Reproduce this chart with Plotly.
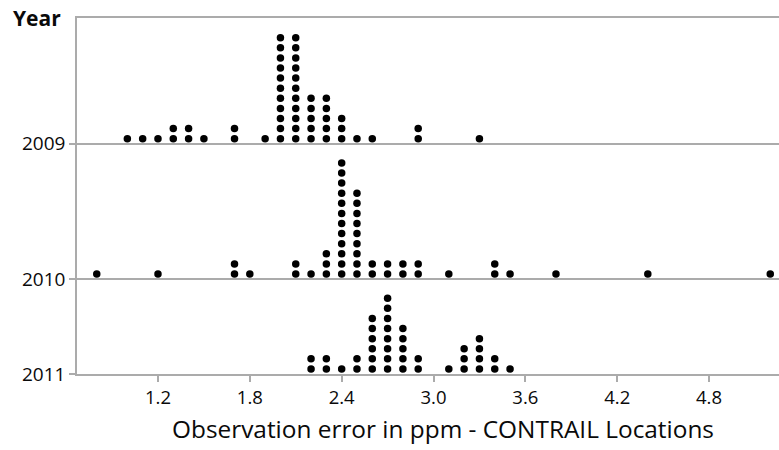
import plotly.graph_objects as go

# ---- data (value bins and number of stacked dots per bin) ----
years = ["2009", "2010", "2011"]
values_2009 = [1.0, 1.1, 1.2, 1.3, 1.4, 1.5, 1.7, 1.9, 2.0, 2.1, 2.2, 2.3, 2.4, 2.5, 2.6, 2.9, 3.3]
counts_2009 = [1, 1, 1, 2, 2, 1, 2, 1, 11, 11, 5, 5, 3, 1, 1, 2, 1]
values_2010 = [0.8, 1.2, 1.7, 1.8, 2.1, 2.2, 2.3, 2.4, 2.5, 2.6, 2.7, 2.8, 2.9, 3.1, 3.4, 3.5, 3.8, 4.4, 5.2]
counts_2010 = [1, 1, 2, 1, 2, 1, 3, 12, 9, 2, 2, 2, 2, 1, 2, 1, 1, 1, 1]
values_2011 = [2.2, 2.3, 2.4, 2.5, 2.6, 2.7, 2.8, 2.9, 3.1, 3.2, 3.3, 3.4, 3.5]
counts_2011 = [2, 2, 1, 2, 6, 8, 5, 2, 1, 3, 4, 2, 1]
x_tick_labels = ["1.2", "1.8", "2.4", "3.0", "3.6", "4.2", "4.8"]

# panel baselines in stacked-dot units
baselines = {"2009": 22.8, "2010": 9.4, "2011": 0.0}
series = {"2009": (values_2009, counts_2009),
          "2010": (values_2010, counts_2010),
          "2011": (values_2011, counts_2011)}

fig = go.Figure()
for yr in years:
    vals, cnts = series[yr]
    xs, ys = [], []
    for v, c in zip(vals, cnts):
        for k in range(c):
            xs.append(v)
            ys.append(baselines[yr] + 0.5 + k)
    fig.add_trace(go.Scatter(x=xs, y=ys, mode="markers", name=yr,
                             marker=dict(color="black", size=7.5, line=dict(width=0)),
                             showlegend=False, hoverinfo="x", cliponaxis=False))

axis_col = "#ababab"
font_fam = "Open Sans, Noto Sans, sans-serif"
txt_col = "#0a0a0a"
fig.update_layout(
    width=779, height=450,
    margin=dict(l=77, r=0, t=18, b=76),
    paper_bgcolor="white", plot_bgcolor="white",
    font=dict(family=font_fam, color=txt_col),
    xaxis=dict(range=[0.671, 5.257], tickvals=[float(t) for t in x_tick_labels],
               ticktext=x_tick_labels, showgrid=False, zeroline=False,
               showline=True, linecolor=axis_col, linewidth=1.5, mirror=True,
               ticks="outside", ticklen=6, tickcolor=axis_col, tickwidth=1.5,
               tickfont=dict(size=18.5, family=font_fam, color=txt_col, weight=500),
               automargin=False),
    yaxis=dict(range=[0, 35.25], tickvals=[baselines[y] for y in years],
               ticktext=years, showgrid=True, gridcolor=axis_col, gridwidth=1.5,
               zeroline=False, showline=True, linecolor=axis_col, linewidth=1.5,
               ticks="outside", ticklen=6, tickcolor=axis_col, tickwidth=1.5,
               tickfont=dict(size=19, family=font_fam, color=txt_col, weight=500),
               automargin=False),
    annotations=[
        dict(text="Year", xref="paper", yref="paper", x=-0.094, y=1.0,
             xanchor="left", yanchor="middle", showarrow=False,
             font=dict(size=21, family=font_fam, color=txt_col, weight="bold")),
        dict(text="Observation error in ppm - CONTRAIL Locations", xref="paper",
             yref="paper", x=0.521, y=-0.152, xanchor="center", yanchor="middle",
             showarrow=False, font=dict(size=24.4, family=font_fam, color=txt_col, weight=500)),
    ],
)

fig.write_html("out.html", config={"displayModeBar": False},
               post_script="document.body.style.margin='0';document.body.style.overflow='hidden';")
